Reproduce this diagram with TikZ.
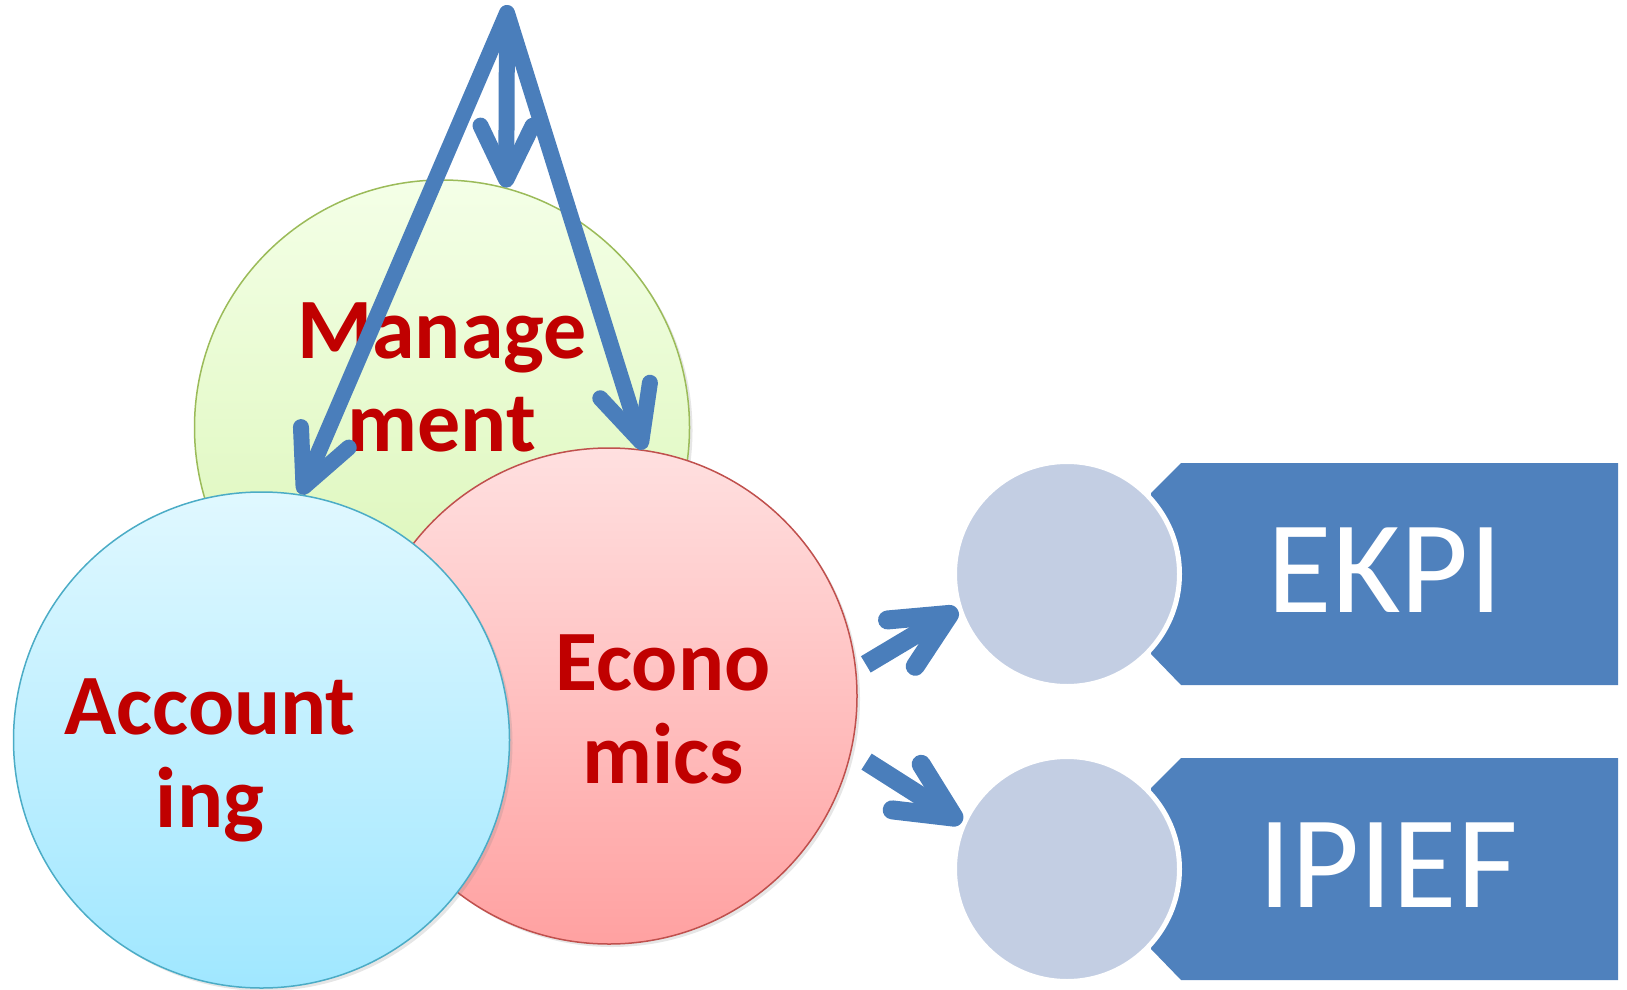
\documentclass[tikz,border=0pt]{standalone}
\usepackage{fontspec}
\newfontfamily\labelfont{Carlito}
\usetikzlibrary{arrows.meta,shadows}

\definecolor{vennred}{HTML}{C00000}
\definecolor{arrowblue}{HTML}{4A7EBB}
\definecolor{tagblue}{HTML}{4F81BD}
\definecolor{ballfill}{HTML}{C3CEE3}
\definecolor{mgmtline}{HTML}{9BBB59}
\definecolor{mgmttop}{HTML}{F4FFE7}
\definecolor{mgmtbottom}{HTML}{D8F5B2}
\definecolor{econline}{HTML}{C0504D}
\definecolor{econtop}{HTML}{FFE0E0}
\definecolor{econbottom}{HTML}{FFA1A1}
\definecolor{acctline}{HTML}{4BACC6}
\definecolor{accttop}{HTML}{E0F8FF}
\definecolor{acctbottom}{HTML}{A0E7FF}

\begin{document}
\begin{tikzpicture}[x=0.5pt, y=-0.5pt,
        venn/.style={circle, inner sep=0pt, minimum size=248pt, line width=0.75pt,
            drop shadow={shadow xshift=1.5pt, shadow yshift=-1.5pt, opacity=0.2}},
        venntext/.style={font=\labelfont\bfseries\fontsize{43pt}{46.5pt}\selectfont,
            text=vennred, align=center, inner sep=0pt},
        ball/.style={circle, inner sep=0pt, minimum size=112.5pt, fill=ballfill,
            draw=white, line width=2.5pt},
        tagtext/.style={font=\labelfont\fontsize{66pt}{70pt}\selectfont,
            text=white, inner sep=0pt},
        link/.style={draw=arrowblue, line width=8pt, line join=round,
            -{Straight Barb[round, length=27pt, width=26pt]}},
        sidelink/.style={draw=arrowblue, line width=9.5pt,
            -{Straight Barb[round, length=28pt, width=27pt]}}]
    \useasboundingbox (0,0) rectangle (1627,990);

    % the three fields
    \node[venn, draw=mgmtline, top color=mgmttop, bottom color=mgmtbottom,
        minimum size=247.5pt] (mgmt) at (442,427.5) {};
    \node[venn, draw=econline, top color=econtop, bottom color=econbottom] (econ) at (609,696) {};
    \node[venn, draw=acctline, top color=accttop, bottom color=acctbottom] (acct) at (261.5,740) {};

    \node[venntext, anchor=base] (mgmtlabel) at (442,451) {Manage\\ment};
    \node[venntext, anchor=base] (econlabel) at (663,783) {Econo\\mics};
    \node[venntext, anchor=base] (acctlabel) at (210,827) {Account\\ing};

    % the two tags
    \fill[tagblue] (1151,493) -- (1181,463) -- (1618,463) -- (1618,685)
        -- (1181,685) -- (1151,654) -- cycle;
    \fill[tagblue] (1151,788) -- (1181,758) -- (1618,758) -- (1618,980)
        -- (1181,980) -- (1151,949) -- cycle;
    \node[ball] (ekpiball) at (1067,574) {};
    \node[ball] (ipiefball) at (1067,869) {};
    \node[tagtext, anchor=base] (ekpi) at (1385,612) {EKPI};
    \node[tagtext, anchor=base] (ipief) at (1388,907) {IPIEF};

    % arrows
    \coordinate (top) at (507,13);
    \draw[link, {Straight Barb[round, length=27pt, width=26pt]}-{Straight Barb[round, length=27pt, width=26pt]}]
        (acct.81) -- (top) -- (econ.82);
    \draw[link] (top) -- (mgmt.75);

    \draw[sidelink, shorten <=5.5pt] (econ.6) -- (ekpiball.198);
    \draw[sidelink, shorten <=9pt] (econ.-13) -- (ipiefball.156);
\end{tikzpicture}
\end{document}
